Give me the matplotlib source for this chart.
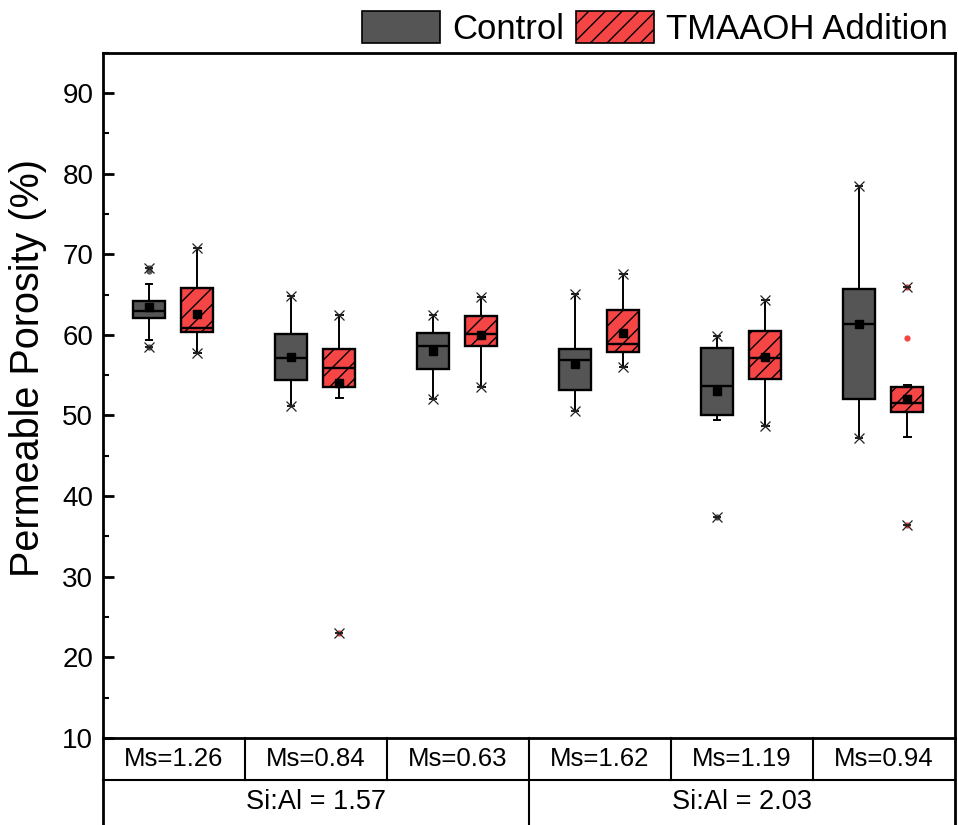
import matplotlib
matplotlib.use('Agg')
import matplotlib.pyplot as plt
from matplotlib.patches import Patch
from matplotlib.ticker import MultipleLocator

plt.rcParams['font.family'] = ['Liberation Sans', 'DejaVu Sans']
plt.rcParams['hatch.linewidth'] = 1.0

# Категории
ms_labels = ['Ms=1.26', 'Ms=0.84', 'Ms=0.63', 'Ms=1.62', 'Ms=1.19', 'Ms=0.94']
sial_labels = ['Si:Al = 1.57', 'Si:Al = 2.03']

# Control
ctrl_q1 = [62.05, 54.4, 55.8, 53.2, 50.1, 52.1]
ctrl_med = [62.9, 57.1, 58.65, 56.9, 53.6, 61.35]
ctrl_q3 = [64.2, 60.05, 60.2, 58.25, 58.35, 65.65]
ctrl_mean = [63.4, 57.3, 58.05, 56.35, 53.1, 61.35]
ctrl_lo = [59.35, 51.2, 52.0, 50.5, 49.45, 47.2]
ctrl_hi = [66.3, 64.8, 62.5, 65.05, 59.8, 78.45]
ctrl_min = [58.45, 51.2, 52.0, 50.5, 37.45, 47.2]
ctrl_max = [68.25, 64.8, 62.5, 65.05, 59.8, 78.45]
ctrl_out = [[68.25, 67.9, 58.45], [], [], [], [37.45], []]

# TMAAOH Addition
tma_q1 = [60.3, 53.55, 58.65, 57.9, 54.5, 50.45]
tma_med = [60.8, 55.95, 60.1, 58.85, 57.1, 51.5]
tma_q3 = [65.8, 58.2, 62.35, 63.1, 60.5, 53.55]
tma_mean = [62.6, 54.0, 60.0, 60.2, 57.2, 52.0]
tma_lo = [57.7, 52.2, 53.55, 56.05, 48.7, 47.3]
tma_hi = [70.75, 62.5, 64.65, 67.6, 64.3, 53.8]
tma_min = [57.7, 23.0, 53.55, 56.05, 48.7, 36.4]
tma_max = [70.75, 62.5, 64.65, 67.6, 64.3, 66.0]
tma_out = [[], [23.0], [], [], [], [66.0, 59.6, 36.4]]

ctrl_color = '#555555'
tma_color = '#F54545'

fig = plt.figure(figsize=(9.58, 8.25), dpi=100)
ax = fig.add_axes([0.1075, 0.1055, 0.8894, 0.8306])


def make_stats(q1, med, q3, mean, lo, hi, out):
    stats = []
    for i in range(len(q1)):
        stats.append({'q1': q1[i], 'med': med[i], 'q3': q3[i], 'mean': mean[i],
                      'whislo': lo[i], 'whishi': hi[i], 'fliers': out[i]})
    return stats


def draw_series(stats, pos, color, hatch, mins, maxs):
    bp = ax.bxp(stats, positions=pos, widths=0.225, capwidths=0.045,
                patch_artist=True, showmeans=True, showfliers=True,
                boxprops=dict(facecolor=color, edgecolor='black', linewidth=1.7, hatch=hatch),
                medianprops=dict(color='black', linewidth=1.7),
                whiskerprops=dict(color='black', linewidth=1.4),
                capprops=dict(color='black', linewidth=1.4),
                meanprops=dict(marker='s', markerfacecolor='black', markeredgecolor='black',
                               markersize=6),
                flierprops=dict(marker='o', markerfacecolor=color, markeredgecolor='none',
                                markersize=4.5))
    # маркеры min / max
    ax.plot(pos + pos, mins + maxs, linestyle='none', marker='x', markersize=7,
            markeredgewidth=0.9, color='#222222', zorder=4)
    ax.plot(pos + pos, mins + maxs, linestyle='none', marker='_', markersize=6,
            markeredgewidth=1.4, color='#222222', zorder=4)
    return bp


pos_ctrl = [i - 0.175 for i in range(6)]
pos_tma = [i + 0.165 for i in range(6)]

draw_series(make_stats(ctrl_q1, ctrl_med, ctrl_q3, ctrl_mean, ctrl_lo, ctrl_hi, ctrl_out),
            pos_ctrl, ctrl_color, None, ctrl_min, ctrl_max)
draw_series(make_stats(tma_q1, tma_med, tma_q3, tma_mean, tma_lo, tma_hi, tma_out),
            pos_tma, tma_color, '//', tma_min, tma_max)

ax.set_xlim(-0.5, 5.5)
ax.set_ylim(10, 95)
ax.yaxis.set_major_locator(MultipleLocator(10))
ax.yaxis.set_minor_locator(MultipleLocator(5))
ax.tick_params(axis='y', which='major', direction='in', length=8, width=2,
               labelsize=20, pad=7)
ax.tick_params(axis='y', which='minor', direction='in', length=4, width=1.5)
ax.set_xticks([])
for sp in ax.spines.values():
    sp.set_linewidth(2)
ax.set_ylabel('Permeable Porosity (%)', fontsize=28.5)
ax.yaxis.set_label_coords(-0.066, 0.54)

# Таблица категорий под осью
tr = ax.get_xaxis_transform()
row1 = -0.061
row_end = -0.2
lw = 1.5
ax.plot([-0.5, 5.5], [row1, row1], transform=tr, color='black', lw=lw, clip_on=False)
for xv in [0.5, 1.5, 2.5, 3.5, 4.5]:
    ax.plot([xv, xv], [0, row1], transform=tr, color='black', lw=lw, clip_on=False)
ax.plot([2.5, 2.5], [row1, row_end], transform=tr, color='black', lw=lw, clip_on=False)
for xv in [-0.5, 5.5]:
    ax.plot([xv, xv], [0, row_end], transform=tr, color='black', lw=2, clip_on=False)
for i, lab in enumerate(ms_labels):
    ax.text(i, row1 / 2, lab, transform=tr, ha='center', va='center', fontsize=18.5)
for i, lab in enumerate(sial_labels):
    ax.text(1 + 3 * i, -0.0934, lab, transform=tr, ha='center', va='center', fontsize=19.5)

handles = [Patch(facecolor=ctrl_color, edgecolor='black', linewidth=1.2, label='Control'),
           Patch(facecolor=tma_color, edgecolor='black', linewidth=1.2, hatch='//',
                 label='TMAAOH Addition')]
ax.legend(handles=handles, loc='lower right', bbox_to_anchor=(1.0, 1.0), ncol=2,
          frameon=False, fontsize=25, handlelength=2.25, handleheight=1.05,
          handletextpad=0.35, columnspacing=0.35, borderaxespad=0.1, borderpad=0.1)

fig.savefig('out.png', dpi=100)
